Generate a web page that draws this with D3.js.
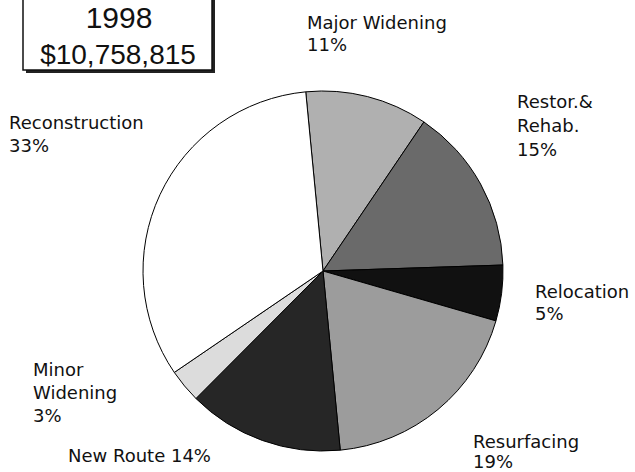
<!DOCTYPE html>
<html>
<head>
<meta charset="utf-8">
<script src="https://cdn.jsdelivr.net/npm/d3@7"></script>
<style>
  html, body { margin: 0; padding: 0; background: #fff; }
  svg { display: block; }
</style>
</head>
<body>
<svg id="chart" width="635" height="472"></svg>
<script>
// ---- data ----
const categories = ["Major Widening", "Restor.& Rehab.", "Relocation", "Resurfacing", "New Route", "Minor Widening", "Reconstruction"];
const percents = [11, 15, 5, 19, 14, 3, 33];
const labelLines = [
  ["Major Widening", "11%"],
  ["Restor.&", "Rehab.", "15%"],
  ["Relocation", "5%"],
  ["Resurfacing", "19%"],
  ["New Route 14%"],
  ["Minor", "Widening", "3%"],
  ["Reconstruction", "33%"]
];
const titleYear = "1998";
const titleTotal = "$10,758,815";

// ---- layout / style ----
const fills = ["#b0b0b0", "#6a6a6a", "#111111", "#9c9c9c", "#262626", "#dcdcdc", "#ffffff"];
const labelPos = [
  {x: 307, y: 29, lh: 22},
  {x: 517, y: 108, lh: 24},
  {x: 535, y: 298, lh: 22},
  {x: 473, y: 448, lh: 20},
  {x: 68, y: 462, lh: 22},
  {x: 33, y: 376, lh: 23},
  {x: 9, y: 129, lh: 23}
];

const svg = d3.select("#chart");
const cx = 323, cy = 271, r = 180;
const start = -5.5 * Math.PI / 180;

const pie = d3.pie().sort(null).value(d => d).startAngle(start).endAngle(start + 2 * Math.PI);
const arc = d3.arc().innerRadius(0).outerRadius(r);

const g = svg.append("g").attr("transform", `translate(${cx},${cy})`);
g.selectAll("path")
  .data(pie(percents))
  .join("path")
  .attr("d", arc)
  .attr("fill", (d, i) => fills[i])
  .attr("stroke", "#000")
  .attr("stroke-width", 1);

// labels
const lg = svg.append("g")
  .attr("font-family", "'DejaVu Sans', sans-serif")
  .attr("font-size", 18)
  .attr("fill", "#111");
labelLines.forEach((lines, i) => {
  const p = labelPos[i];
  const t = lg.append("text").attr("x", p.x).attr("y", p.y);
  lines.forEach((s, j) => {
    t.append("tspan").attr("x", p.x).attr("y", p.y + j * p.lh).text(s);
  });
});

// title box
const box = svg.append("g");
box.append("rect").attr("x", 26).attr("y", -6).attr("width", 189).attr("height", 79).attr("fill", "#222");
box.append("rect").attr("x", 23).attr("y", -8).attr("width", 189).attr("height", 78)
  .attr("fill", "#fff").attr("stroke", "#111").attr("stroke-width", 1.5);
box.append("text").attr("x", 119).attr("y", 28)
  .attr("text-anchor", "middle")
  .attr("font-family", "'Liberation Sans', Arial, sans-serif")
  .attr("font-size", 30).attr("fill", "#111").text(titleYear);
box.append("text").attr("x", 118).attr("y", 64)
  .attr("text-anchor", "middle")
  .attr("font-family", "'Liberation Sans', Arial, sans-serif")
  .attr("font-size", 28).attr("fill", "#111").text(titleTotal);
</script>
</body>
</html>
